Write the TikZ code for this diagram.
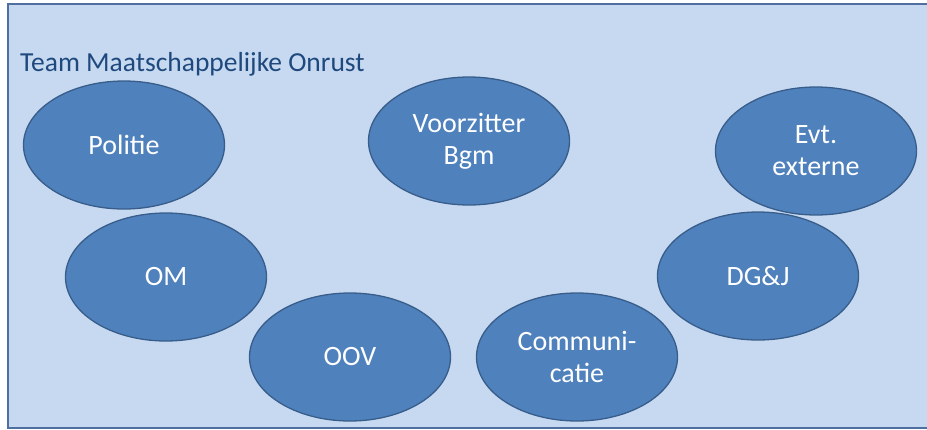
\documentclass[tikz,border=0pt]{standalone}
\usepackage{fontspec}
\setmainfont{Carlito}
\definecolor{panelfill}{RGB}{198, 217, 241}
\definecolor{panelline}{RGB}{79, 111, 160}
\definecolor{titleblue}{RGB}{31, 73, 125}
\definecolor{ovalfill}{RGB}{79, 129, 189}
\definecolor{ovalline}{RGB}{56, 93, 138}
\usetikzlibrary{shapes.geometric, positioning}

\begin{document}
\begin{tikzpicture}[
  x=1pt, y=-1pt,
  oval/.style={ellipse, draw=ovalline, line width=1.3pt, fill=ovalfill, minimum width=201pt, minimum height=128pt, inner sep=0pt, text=white, align=center, font=\fontsize{28}{32}\selectfont},
]
  \useasboundingbox (0, 0) rectangle (927, 429);
  \draw[draw=panelline, line width=2pt, fill=panelfill] (8, 4) rectangle (940, 428);
  \node[anchor=base west, text=titleblue, font=\fontsize{27.5}{32}\selectfont, inner sep=0pt] (title) at (20, 71) {Team Maatschappelijke Onrust};

  % top row
  \node[oval] (politie) at (124, 145) {Politie};
  \node[oval] (voorzitter) at (469, 141) {Voorzitter\\Bgm};
  \node[oval] (externe) at (816, 151) {Evt.\\externe};
  % middle row
  \node[oval] (om) at (166, 277) {OM};
  \node[oval] (dgj) at (758, 276) {DG\&J};
  % bottom row
  \node[oval] (oov) at (350, 357) {OOV};
  \node[oval] (communicatie) at (577, 357) {Communi-\\catie};
\end{tikzpicture}
\end{document}
